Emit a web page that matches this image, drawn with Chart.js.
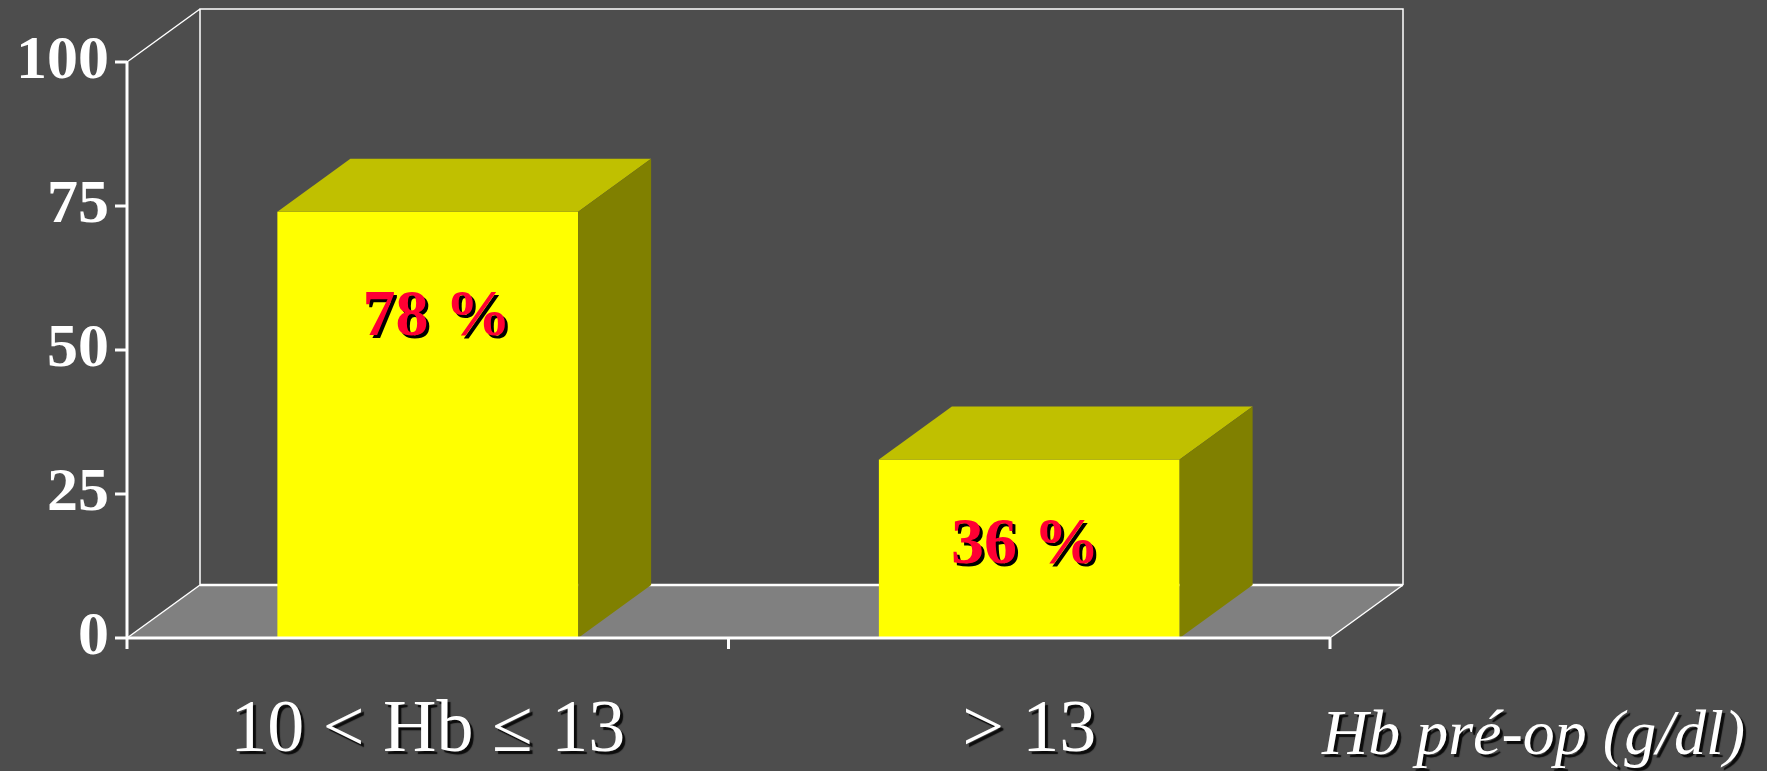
<!DOCTYPE html>
<html>
<head>
<meta charset="utf-8">
<script src="https://cdn.jsdelivr.net/npm/chart.js@4"></script>
<style>
  body { margin: 0; background: #4d4d4d; }
  #wrap { width: 1767px; height: 771px; }
</style>
</head>
<body>
<div id="wrap"><canvas id="chartHb" width="1767" height="771"></canvas></div>
<script>
/* data */
const kategori = ["10 < Hb \u2264 13", "> 13"];
const nilai = [74, 31];
const labelNilai = ["78 %", "36 %"];
const tickY = [0, 25, 50, 75, 100];
const judulX = "Hb pr\u00e9-op (g/dl)";

/* kedalaman efek 3D */
const dx = 73;
const dy = 53;

const plugin3D = {
  id: "plugin3D",
  beforeDraw(chart) {
    // bayangan untuk label kategori (skala x digambar sebelum bar)
    const ctx = chart.ctx;
    ctx.shadowColor = "rgba(0,0,0,0.85)";
    ctx.shadowOffsetX = 3;
    ctx.shadowOffsetY = 3;
    ctx.shadowBlur = 1;
  },
  beforeDatasetsDraw(chart) {
    const ctx = chart.ctx;
    const a = chart.chartArea;
    ctx.shadowColor = "transparent";
    ctx.shadowOffsetX = 0;
    ctx.shadowOffsetY = 0;
    ctx.shadowBlur = 0;

    ctx.save();
    // lantai
    ctx.fillStyle = "#808080";
    ctx.beginPath();
    ctx.moveTo(a.left, a.bottom);
    ctx.lineTo(a.left + dx, a.bottom - dy);
    ctx.lineTo(a.right + dx, a.bottom - dy);
    ctx.lineTo(a.right, a.bottom);
    ctx.closePath();
    ctx.fill();

    // dinding belakang
    ctx.strokeStyle = "#ffffff";
    ctx.lineWidth = 1.5;
    ctx.beginPath();
    ctx.moveTo(a.left + dx, a.bottom - dy);
    ctx.lineTo(a.left + dx, a.top - dy);
    ctx.lineTo(a.right + dx, a.top - dy);
    ctx.lineTo(a.right + dx, a.bottom - dy);
    ctx.moveTo(a.left, a.top);
    ctx.lineTo(a.left + dx, a.top - dy);
    ctx.moveTo(a.left, a.bottom);
    ctx.lineTo(a.left + dx, a.bottom - dy);
    ctx.moveTo(a.right, a.bottom);
    ctx.lineTo(a.right + dx, a.bottom - dy);
    ctx.stroke();

    ctx.lineWidth = 2.5;
    ctx.beginPath();
    ctx.moveTo(a.left + dx, a.bottom - dy);
    ctx.lineTo(a.right + dx, a.bottom - dy);
    ctx.stroke();
    ctx.restore();
  },
  afterDatasetsDraw(chart) {
    const ctx = chart.ctx;
    const a = chart.chartArea;
    const meta = chart.getDatasetMeta(0);
    const yScale = chart.scales.y;
    const xScale = chart.scales.x;

    ctx.save();
    meta.data.forEach(function (bar) {
      const kiri = bar.x - bar.width / 2;
      const kanan = bar.x + bar.width / 2;
      // sisi atas
      ctx.fillStyle = "#c0c000";
      ctx.beginPath();
      ctx.moveTo(kiri, bar.y);
      ctx.lineTo(kiri + dx, bar.y - dy);
      ctx.lineTo(kanan + dx, bar.y - dy);
      ctx.lineTo(kanan, bar.y);
      ctx.closePath();
      ctx.fill();
      // sisi kanan
      ctx.fillStyle = "#808000";
      ctx.beginPath();
      ctx.moveTo(kanan, bar.y);
      ctx.lineTo(kanan + dx, bar.y - dy);
      ctx.lineTo(kanan + dx, bar.base - dy);
      ctx.lineTo(kanan, bar.base);
      ctx.closePath();
      ctx.fill();
    });

    // sumbu
    ctx.strokeStyle = "#ffffff";
    ctx.lineWidth = 3;
    ctx.lineCap = "butt";
    ctx.beginPath();
    ctx.moveTo(a.left, a.top);
    ctx.lineTo(a.left, a.bottom + 11);
    ctx.moveTo(a.left - 1.5, a.bottom);
    ctx.lineTo(a.right, a.bottom);
    tickY.forEach(function (v) {
      const py = yScale.getPixelForValue(v);
      ctx.moveTo(a.left - 12, py);
      ctx.lineTo(a.left, py);
    });
    const tickX = [a.left, (xScale.getPixelForValue(0) + xScale.getPixelForValue(1)) / 2, a.right];
    tickX.forEach(function (px) {
      ctx.moveTo(px, a.bottom);
      ctx.lineTo(px, a.bottom + 11);
    });
    ctx.stroke();

    // label nilai
    const opsi = chart.options.plugins.plugin3D;
    ctx.font = "bold 66px 'Liberation Serif', 'Times New Roman', serif";
    ctx.textAlign = "center";
    ctx.textBaseline = "middle";
    meta.data.forEach(function (bar, i) {
      const px = bar.x + opsi.geserX[i];
      const py = yScale.getPixelForValue(opsi.labelAt[i]);
      ctx.fillStyle = "#000000";
      ctx.fillText(labelNilai[i], px + 3, py + 3);
      ctx.fillStyle = "#ff0033";
      ctx.fillText(labelNilai[i], px, py);
    });
    ctx.restore();
  },
  afterDraw(chart) {
    const ctx = chart.ctx;
    ctx.save();
    ctx.font = "italic 64px 'Liberation Serif', 'Times New Roman', serif";
    ctx.textAlign = "right";
    ctx.textBaseline = "alphabetic";
    ctx.shadowColor = "rgba(0,0,0,0.85)";
    ctx.shadowOffsetX = 3;
    ctx.shadowOffsetY = 3;
    ctx.shadowBlur = 1;
    ctx.fillStyle = "#ffffff";
    ctx.fillText(judulX, 1745, 754);
    ctx.restore();
  }
};

const cHb = document.getElementById("chartHb");
new Chart(cHb, {
  type: "bar",
  data: {
    labels: kategori,
    datasets: [
      {
        label: "Hb",
        data: nilai,
        backgroundColor: "#ffff00",
        borderWidth: 0,
        barPercentage: 0.5,
        categoryPercentage: 1.0,
      },
    ],
  },
  options: {
    responsive: false,
    devicePixelRatio: 1,
    animation: false,
    layout: {
      padding: { top: 62, right: 437, bottom: 0, left: 0 },
    },
    scales: {
      x: {
        grid: { display: false, drawTicks: false },
        border: { display: false },
        afterFit(scale) {
          scale.height = 133;
        },
        ticks: {
          z: 0,
          color: "#ffffff",
          padding: 49,
          font: { family: "'Liberation Serif', 'Times New Roman', serif", size: 74 },
        },
      },
      y: {
        min: 0,
        max: 100,
        afterFit(scale) {
          scale.width = 127;
        },
        afterBuildTicks(scale) {
          scale.ticks = tickY.map((v) => ({ value: v }));
        },
        grid: { display: false, drawTicks: false },
        border: { display: false },
        ticks: {
          z: 1,
          color: "#ffffff",
          padding: 18,
          font: { family: "'Liberation Serif', 'Times New Roman', serif", size: 62, weight: "bold" },
        },
      },
    },
    plugins: {
      legend: { display: false },
      tooltip: { enabled: false },
      plugin3D: { labelAt: [55.5, 16], geserX: [9, -4] },
    },
  },
  plugins: [plugin3D],
});
</script>
</body>
</html>
